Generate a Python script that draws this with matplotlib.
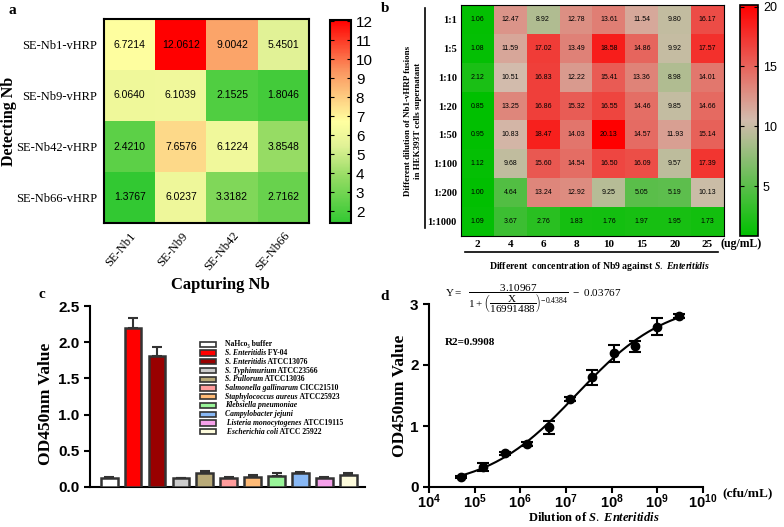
import numpy as np
import matplotlib
matplotlib.use('Agg')
import matplotlib.pyplot as plt
from matplotlib.colors import LinearSegmentedColormap
from matplotlib.lines import Line2D
from matplotlib.patches import Rectangle

## Fonts - serif for labels, sans for numbers
plt.rcParams['font.family'] = 'Liberation Sans'
plt.rcParams['mathtext.fontset'] = 'custom'
plt.rcParams['mathtext.rm'] = 'Liberation Serif'
plt.rcParams['mathtext.it'] = 'Liberation Serif:italic:bold'
plt.rcParams['mathtext.bf'] = 'Liberation Serif:bold'
plt.rcParams['mathtext.sf'] = 'Liberation Sans:bold'
serif = 'Liberation Serif'

## Panel a data
a_rows = ['SE-Nb1-vHRP', 'SE-Nb9-vHRP', 'SE-Nb42-vHRP', 'SE-Nb66-vHRP']
a_cols = ['SE-Nb1', 'SE-Nb9', 'SE-Nb42', 'SE-Nb66']
a_vals = [[6.7214, 12.0612, 9.0042, 5.4501],
          [6.0640, 6.1039, 2.1525, 1.8046],
          [2.4210, 7.6576, 6.1224, 3.8548],
          [1.3767, 6.0237, 3.3182, 2.7162]]

## Panel b data
b_rows = ['1:1', '1:5', '1:10', '1:20', '1:50', '1:100', '1:200', '1:1000']
b_cols = ['2', '4', '6', '8', '10', '15', '20', '25']
b_vals = [[1.06, 12.47, 8.92, 12.78, 13.61, 11.54, 9.80, 16.17],
          [1.08, 11.59, 17.02, 13.49, 18.58, 14.86, 9.92, 17.57],
          [2.12, 10.51, 16.83, 12.22, 15.41, 13.36, 8.98, 14.01],
          [0.85, 13.25, 16.86, 15.32, 16.55, 14.46, 9.85, 14.66],
          [0.95, 10.83, 18.47, 14.03, 20.13, 14.57, 11.93, 15.14],
          [1.12, 9.68, 15.60, 14.54, 16.50, 16.09, 9.57, 17.39],
          [1.00, 4.64, 13.24, 12.92, 9.25, 5.05, 5.19, 10.13],
          [1.09, 3.67, 2.76, 1.83, 1.76, 1.97, 1.95, 1.73]]

## Panel c data - legend names split into italic species part and plain strain part
c_species = ['', 'S. Enteritidis', 'S. Enteritidis', 'S. Typhimurium', 'S. Pullorum',
             'Salmonella gallinarum', 'Staphylococcus aureus', 'Klebsiella pneumoniae',
             'Campylobacter jejuni', ' Listeria monocytogenes', ' Escherichia coli']
c_strains = ['NaHco\u2083 buffer', 'FY-04', 'ATCC13076', 'ATCC23566', 'ATCC13036',
             'CICC21510', 'ATCC25923', '', '', 'ATCC19115', 'ATCC 25922']
c_vals = [0.12, 2.19, 1.81, 0.12, 0.20, 0.12, 0.14, 0.15, 0.20, 0.12, 0.16]
c_errs = [0.02, 0.14, 0.12, 0.01, 0.02, 0.02, 0.02, 0.04, 0.01, 0.02, 0.04]
c_colors = ['#ffffff', '#ff0000', '#990000', '#cccccc', '#b8aa78', '#ff9c9c',
            '#ffbb77', '#99f599', '#88b8f5', '#f5a0ea', '#fdfbdc']

## Panel d data
d_x = [5e4, 1.5e5, 4.6e5, 1.4e6, 4.2e6, 1.25e7, 3.7e7, 1.1e8, 3.3e8, 1e9, 3e9]
d_y = [0.16, 0.33, 0.55, 0.71, 0.98, 1.44, 1.80, 2.19, 2.31, 2.63, 2.80]
d_err = [0.02, 0.06, 0.02, 0.03, 0.11, 0.03, 0.12, 0.14, 0.09, 0.14, 0.03]
## fit parameters printed on the chart
fit_top, fit_ec50, fit_slope, fit_offset = 3.10967, 16991488, -0.4384, 0.03767

fig = plt.figure(figsize=(7.84, 5.27), dpi=100)
W, H = 784, 527

def box(x0, y0, x1, y1):
    return [x0 / W, 1 - y1 / H, (x1 - x0) / W, (y1 - y0) / H]

################################################################
## Panel a
################################################################
cmap_a = LinearSegmentedColormap.from_list('a', [(0, '#32c832'), (0.23, '#96dc64'),
                                                 (0.38, '#e1f296'), (0.5, '#ffffa0'),
                                                 (0.75, '#fb9560'), (1, '#ff0000')])
ax_a = fig.add_axes(box(104, 19, 309, 223))
arr_a = np.array(a_vals)
im_a = ax_a.imshow(arr_a, cmap=cmap_a, vmin=arr_a.min(), vmax=arr_a.max(), aspect='auto')
for i in range(len(a_rows)):
    for j in range(len(a_cols)):
        ax_a.text(j, i, '%.4f' % a_vals[i][j], ha='center', va='center', fontsize=7.5)
ax_a.set_yticks(range(len(a_rows)), labels=a_rows, family=serif, fontsize=9)
ax_a.set_xticks(range(len(a_cols)), labels=a_cols, family=serif, fontsize=9,
                rotation=50, ha='right', rotation_mode='anchor')
ax_a.tick_params(length=0, pad=5)
for s in ax_a.spines.values():
    s.set_linewidth(1.5)
ax_a.set_ylabel('Detecting Nb', family=serif, weight='bold', fontsize=11.5)
ax_a.yaxis.set_label_coords((17 - 104) / 205, 0.5)
fig.text(220 / W, 1 - 285 / H, 'Capturing Nb', family=serif, weight='bold', fontsize=12,
         ha='center', va='center')

cax_a = fig.add_axes(box(330, 20, 351, 223))
cb_a = fig.colorbar(im_a, cax=cax_a, ticks=range(2, 13))
cb_a.outline.set_linewidth(1.5)
cax_a.tick_params(direction='in', left=True, right=True, length=3, labelsize=11)

################################################################
## Panel b
################################################################
cmap_b = LinearSegmentedColormap.from_list('b', [(0, '#00c000'), (0.5, '#d2bcad'),
                                                 (1, '#ff0000')])
ax_b = fig.add_axes(box(461, 5, 724, 236))
arr_b = np.array(b_vals)
im_b = ax_b.imshow(arr_b, cmap=cmap_b, vmin=arr_b.min(), vmax=arr_b.max(), aspect='auto')
for i in range(len(b_rows)):
    for j in range(len(b_cols)):
        ax_b.text(j, i, '%.2f' % b_vals[i][j], ha='center', va='center', fontsize=5)
ax_b.set_yticks(range(len(b_rows)), labels=b_rows, family=serif, weight='bold', fontsize=7.5)
ax_b.set_xticks(range(len(b_cols)), labels=b_cols, family=serif, weight='bold', fontsize=8)
ax_b.tick_params(length=0, pad=3)
ax_b.text(0.985, -0.035, '(ug/mL)', transform=ax_b.transAxes, family=serif, weight='bold',
          fontsize=8.5, ha='left', va='center')
ax_b.add_artist(Line2D([-0.137, -0.137], [0.035, 0.987], transform=ax_b.transAxes,
                       color='black', lw=1.2, clip_on=False))
ax_b.add_artist(Line2D([0.015, 0.977], [-0.069, -0.069], transform=ax_b.transAxes,
                       color='black', lw=1.2, clip_on=False))
ax_b.text(-0.182, 0.5, 'Different dilution of Nb1-vHRP fusions\nin HEK393T cells supernatant',
          transform=ax_b.transAxes, rotation=90, family=serif, weight='bold', fontsize=6.5,
          ha='center', va='center', linespacing=1.3)
ax_b.text(0.528, -0.134, r'Different  concentration of Nb9 against $S.\ Enteritidis$',
          transform=ax_b.transAxes, family=serif, weight='bold', fontsize=7,
          ha='center', va='center')

cax_b = fig.add_axes(box(740, 5, 758, 236))
cb_b = fig.colorbar(im_b, cax=cax_b, ticks=[5, 10, 15, 20])
cb_b.outline.set_linewidth(1.2)
cax_b.tick_params(direction='in', left=True, right=True, length=3, labelsize=9)

################################################################
## Panel c
################################################################
ax_c = fig.add_axes(box(90, 306, 365, 487))
pos = np.arange(len(c_vals))
ax_c.bar(pos, c_vals, width=0.7, color=c_colors, edgecolor='#333333', linewidth=1.8, zorder=3)
ax_c.errorbar(pos, c_vals, yerr=[np.zeros(len(c_errs)), c_errs], fmt='none', ecolor='#333333',
              elinewidth=1.5, capsize=3.5, capthick=1.5, zorder=2)
ax_c.set_xlim(-0.8, 10.7)
ax_c.set_ylim(0, 2.5)
ax_c.set_yticks([0, 0.5, 1.0, 1.5, 2.0, 2.5])
ax_c.set_yticklabels(['0.0', '0.5', '1.0', '1.5', '2.0', '2.5'], weight='bold', fontsize=11)
ax_c.set_xticks([])
ax_c.spines['top'].set_visible(False)
ax_c.spines['right'].set_visible(False)
ax_c.spines['left'].set_linewidth(1.5)
ax_c.spines['bottom'].set_linewidth(1.5)
ax_c.tick_params(axis='y', width=1.5, length=4)
ax_c.set_ylabel('OD450nm Value', family=serif, weight='bold', fontsize=12.5)
ax_c.yaxis.set_label_coords((54 - 90) / 275, 0.46)

## hand-built legend (rows are tighter than ax.legend allows)
leg_font = dict(family=[serif, 'DejaVu Serif'], weight='bold', fontsize=5.5)
for k, (sp, st, col) in enumerate(zip(c_species, c_strains, c_colors)):
    yc = 344.3 + k * 8.74
    ax_c.add_patch(Rectangle(((200 - 90) / 275, (487 - yc - 2.6) / 181), 16 / 275, 5.2 / 181,
                             transform=ax_c.transAxes, clip_on=False, facecolor=col,
                             edgecolor='#333333', linewidth=1.2))
    tx, ty = (225 - 90) / 275, (487 - yc) / 181
    if sp:
        t1 = ax_c.text(tx, ty, sp, transform=ax_c.transAxes, style='italic',
                       ha='left', va='center', **leg_font)
        if st:
            ax_c.annotate(' ' + st, xy=(1, 0), xycoords=t1, ha='left', va='bottom',
                          **leg_font)
    else:
        ax_c.text(tx, ty, st, transform=ax_c.transAxes, ha='left', va='center', **leg_font)

################################################################
## Panel d
################################################################
ax_d = fig.add_axes(box(429, 304, 703, 487))
xs = np.logspace(np.log10(d_x[0]), np.log10(d_x[-1]), 200)
ax_d.plot(xs, fit_top / (1 + (xs / fit_ec50) ** fit_slope) - fit_offset, color='black', lw=1.5)
ax_d.errorbar(d_x, d_y, yerr=d_err, fmt='o', color='black', markersize=6, elinewidth=1.5,
              capsize=4, capthick=1.5)
ax_d.set_xscale('log')
ax_d.set_xlim(1e4, 1e10)
ax_d.set_ylim(0, 3)
ax_d.set_xticks([10.0 ** k for k in range(4, 11)])
ax_d.set_xticklabels([r'$\mathsf{10^{%d}}$' % k for k in range(4, 11)], fontsize=10.5)
ax_d.minorticks_off()
ax_d.set_yticks([0, 1, 2, 3])
ax_d.set_yticklabels(['0', '1', '2', '3'], weight='bold', fontsize=11)
ax_d.spines['top'].set_visible(False)
ax_d.spines['right'].set_visible(False)
ax_d.spines['left'].set_linewidth(1.5)
ax_d.spines['bottom'].set_linewidth(1.5)
ax_d.tick_params(width=1.5, length=4)
ax_d.tick_params(axis='x', pad=0)
ax_d.set_ylabel('OD450nm Value', family=serif, weight='bold', fontsize=12.5)
ax_d.yaxis.set_label_coords((408 - 429) / 274, 0.5)
ax_d.text(0.6, -0.166, r'Dilution of $S.\ Enteritidis$', transform=ax_d.transAxes,
          family=serif, weight='bold', fontsize=9, ha='center', va='center')
ax_d.text(1.07, -0.033, '(cfu/mL)', transform=ax_d.transAxes, family=serif, weight='bold',
          fontsize=9.5, ha='left', va='center')
ax_d.text(0.058, 1.03,
          r'$\mathrm{Y}=\ \ \dfrac{3.10967}{1+\left(\dfrac{\mathrm{X}}{16991488}\right)^{-0.4384}}\ -\ 0.03767$',
          transform=ax_d.transAxes, fontsize=8, ha='left', va='center')
ax_d.text(0.058, 0.787, 'R2=0.9908', transform=ax_d.transAxes, family=serif, weight='bold',
          fontsize=8, ha='left', va='center')

## Panel letters
for lx, ly, letter in [(12, 10, 'a'), (385, 8, 'b'), (42, 294, 'c'), (385, 296, 'd')]:
    fig.text(lx / W, 1 - ly / H, letter, family=serif, weight='bold', fontsize=11,
             ha='center', va='center')

fig.savefig('out.png', dpi=100)
